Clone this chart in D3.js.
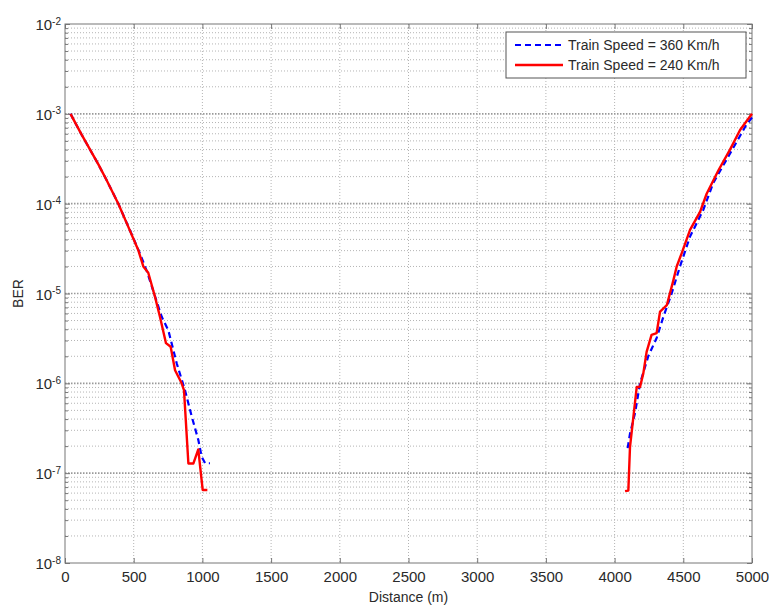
<!DOCTYPE html>
<html>
<head>
<meta charset="utf-8">
<script src="https://cdn.jsdelivr.net/npm/d3@7"></script>
<style>
  body { margin: 0; background: #fff; }
  text { font-family: Arial, "Liberation Sans", sans-serif; fill: #2a2a2a; }
</style>
</head>
<body>
<div id="chart"></div>
<script>
// values (distance in m, BER)
var xTicks = [0, 500, 1000, 1500, 2000, 2500, 3000, 3500, 4000, 4500, 5000];
var yDecades = [-8, -7, -6, -5, -4, -3, -2];

var seriesNames = ["Train Speed = 360 Km/h", "Train Speed = 240 Km/h"];

// 360 km/h (blue dashed)
var blueLeftDist = [40, 120, 245, 305, 388, 460, 545, 600, 655, 704, 752, 813, 873, 922, 970, 995, 1020, 1055];
var blueLeftBer  = [1.0e-3, 5.9e-4, 2.7e-4, 1.8e-4, 1.0e-4, 5.6e-5, 2.8e-5, 1.7e-5, 9.3e-6, 5.5e-6, 3.9e-6, 1.67e-6, 8.4e-7, 4.3e-7, 2.35e-7, 1.52e-7, 1.29e-7, 1.29e-7];
var blueRightDist = [4095, 4112, 4149, 4185, 4245, 4306, 4355, 4415, 4476, 4549, 4645, 4718, 4815, 4960, 5000];
var blueRightBer  = [1.9e-7, 2.75e-7, 4.7e-7, 1.0e-6, 2.0e-6, 3.2e-6, 5.5e-6, 1.0e-5, 2.0e-5, 4.3e-5, 8.5e-5, 1.7e-4, 3.1e-4, 7.6e-4, 9.1e-4];

// 240 km/h (red solid)
var redLeftDist = [40, 120, 245, 305, 388, 460, 533, 570, 606, 655, 691, 735, 769, 801, 849, 866, 898, 934, 970, 1002, 1036];
var redLeftBer  = [1.0e-3, 5.9e-4, 2.7e-4, 1.8e-4, 1.0e-4, 5.55e-5, 3.05e-5, 2.0e-5, 1.7e-5, 9.2e-6, 5.5e-6, 2.8e-6, 2.55e-6, 1.4e-6, 1.0e-6, 8.4e-7, 1.28e-7, 1.28e-7, 1.84e-7, 6.5e-8, 6.5e-8];
var redRightDist = [4076, 4100, 4112, 4161, 4185, 4209, 4233, 4269, 4306, 4331, 4380, 4428, 4452, 4488, 4549, 4622, 4670, 4755, 4840, 4913, 5000];
var redRightBer  = [6.3e-8, 6.4e-8, 1.95e-7, 9.1e-7, 9.1e-7, 1.29e-6, 2.24e-6, 3.47e-6, 3.63e-6, 6.3e-6, 7.4e-6, 1.41e-5, 2.0e-5, 2.8e-5, 5.1e-5, 8.1e-5, 1.29e-4, 2.34e-4, 4.0e-4, 6.6e-4, 1.0e-3];

var width = 769, height = 605;
var margin = {top: 24, right: 17, bottom: 42, left: 65};
var w = width - margin.left - margin.right,
    h = height - margin.top - margin.bottom;

var svg = d3.select("#chart").append("svg")
    .attr("width", width)
    .attr("height", height);

var g = svg.append("g").attr("transform", "translate(" + margin.left + "," + margin.top + ")");

var x = d3.scaleLinear().domain([0, 5000]).range([0, w]);
var y = d3.scaleLog().domain([1e-8, 1e-2]).range([h, 0]);

function zip(a, b) { return a.map(function(d, i) { return [d, b[i]]; }); }

// minor log values
var minorVals = [];
yDecades.slice(0, -1).forEach(function(e) {
  for (var k = 2; k <= 9; k++) minorVals.push(k * Math.pow(10, e));
});
var majorVals = yDecades.map(function(e) { return Math.pow(10, e); });

// grid
g.append("g").selectAll("line").data(minorVals).enter().append("line")
  .attr("x1", 0).attr("x2", w)
  .attr("y1", function(d) { return y(d); }).attr("y2", function(d) { return y(d); })
  .attr("stroke", "#b4b4b4").attr("stroke-width", 1).attr("stroke-dasharray", "1,2");
g.append("g").selectAll("line").data(majorVals.slice(1, -1)).enter().append("line")
  .attr("x1", 0).attr("x2", w)
  .attr("y1", function(d) { return y(d); }).attr("y2", function(d) { return y(d); })
  .attr("stroke", "#999").attr("stroke-width", 1.6).attr("stroke-dasharray", "1.5,1.5");
g.append("g").selectAll("line").data(xTicks.slice(1, -1)).enter().append("line")
  .attr("x1", function(d) { return x(d); }).attr("x2", function(d) { return x(d); })
  .attr("y1", 0).attr("y2", h)
  .attr("stroke", "#b4b4b4").attr("stroke-width", 1).attr("stroke-dasharray", "1,2");

// axes with inward ticks
var xAxis = d3.axisBottom(x).tickValues(xTicks).tickSizeInner(-5).tickSizeOuter(0).tickFormat(d3.format("d"));
var gx = g.append("g").attr("transform", "translate(0," + h + ")").call(xAxis);
gx.select(".domain").remove();
gx.selectAll("line").attr("stroke", "#777");
gx.selectAll("text").attr("y", 8).attr("dy", "0.71em").style("font-size", "15px");

var xTop = d3.axisTop(x).tickValues(xTicks).tickSizeInner(-5).tickSizeOuter(0).tickFormat("");
var gxt = g.append("g").call(xTop);
gxt.select(".domain").remove();
gxt.selectAll("line").attr("stroke", "#777");

["left", "right"].forEach(function(side) {
  var ax = (side === "left" ? d3.axisLeft(y) : d3.axisRight(y)).tickValues(majorVals.concat(minorVals))
    .tickSize(0).tickFormat("");
  var ga = g.append("g").attr("transform", side === "left" ? null : "translate(" + w + ",0)").call(ax);
  ga.select(".domain").remove();
  ga.selectAll(".tick").append("line")
    .attr("x1", 0)
    .attr("x2", function(d) { var major = Math.abs(Math.log10(d) - Math.round(Math.log10(d))) < 1e-9; var len = major ? 5 : 3; return side === "left" ? len : -len; })
    .attr("stroke", "#777");
});

// y labels 10^n
var yl = g.append("g").selectAll("text").data(yDecades).enter().append("text")
  .attr("x", -4)
  .attr("y", function(d) { return y(Math.pow(10, d)); })
  .attr("dy", "0.4em")
  .attr("text-anchor", "end")
  .style("font-size", "15px");
yl.append("tspan").text("10");
yl.append("tspan").attr("dy", "-0.55em").style("font-size", "10px").text(function(d) { return d; });

// box
g.append("rect").attr("width", w).attr("height", h).attr("fill", "none").attr("stroke", "#777").attr("stroke-width", 1);

// lines
var line = d3.line().x(function(d) { return x(d[0]); }).y(function(d) { return y(d[1]); });

var curves = [
  {data: zip(blueLeftDist, blueLeftBer), color: "#0000ff", dash: "6,4", width: 2.2},
  {data: zip(blueRightDist, blueRightBer), color: "#0000ff", dash: "6,4", width: 2.2},
  {data: zip(redLeftDist, redLeftBer), color: "#ff0000", dash: null, width: 2.4},
  {data: zip(redRightDist, redRightBer), color: "#ff0000", dash: null, width: 2.4}
];
g.append("g").selectAll("path").data(curves).enter().append("path")
  .attr("d", function(d) { return line(d.data); })
  .attr("fill", "none")
  .attr("stroke", function(d) { return d.color; })
  .attr("stroke-width", function(d) { return d.width; })
  .attr("stroke-dasharray", function(d) { return d.dash; })
  .attr("stroke-linejoin", "round");

// axis titles
svg.append("text").attr("x", margin.left + w / 2).attr("y", 602).attr("text-anchor", "middle")
  .style("font-size", "14px").text("Distance (m)");
svg.append("text").attr("transform", "translate(23," + (margin.top + h / 2) + ") rotate(-90)")
  .attr("text-anchor", "middle").style("font-size", "14px").text("BER");

// legend
var lg = svg.append("g").attr("transform", "translate(506,32)");
lg.append("rect").attr("width", 240).attr("height", 46).attr("fill", "#fff").attr("stroke", "#555");
var items = lg.selectAll(".item").data(seriesNames).enter().append("g")
  .attr("transform", function(d, i) { return "translate(0," + (13 + i * 20) + ")"; });
items.append("line").attr("x1", 9).attr("x2", 57).attr("y1", 0).attr("y2", 0)
  .attr("stroke", function(d, i) { return i === 0 ? "#0000ff" : "#ff0000"; })
  .attr("stroke-width", function(d, i) { return i === 0 ? 2.2 : 2.4; })
  .attr("stroke-dasharray", function(d, i) { return i === 0 ? "6,4" : null; });
items.append("text").attr("x", 62).attr("dy", "0.35em").style("font-size", "14px").text(function(d) { return d; });
</script>
</body>
</html>
